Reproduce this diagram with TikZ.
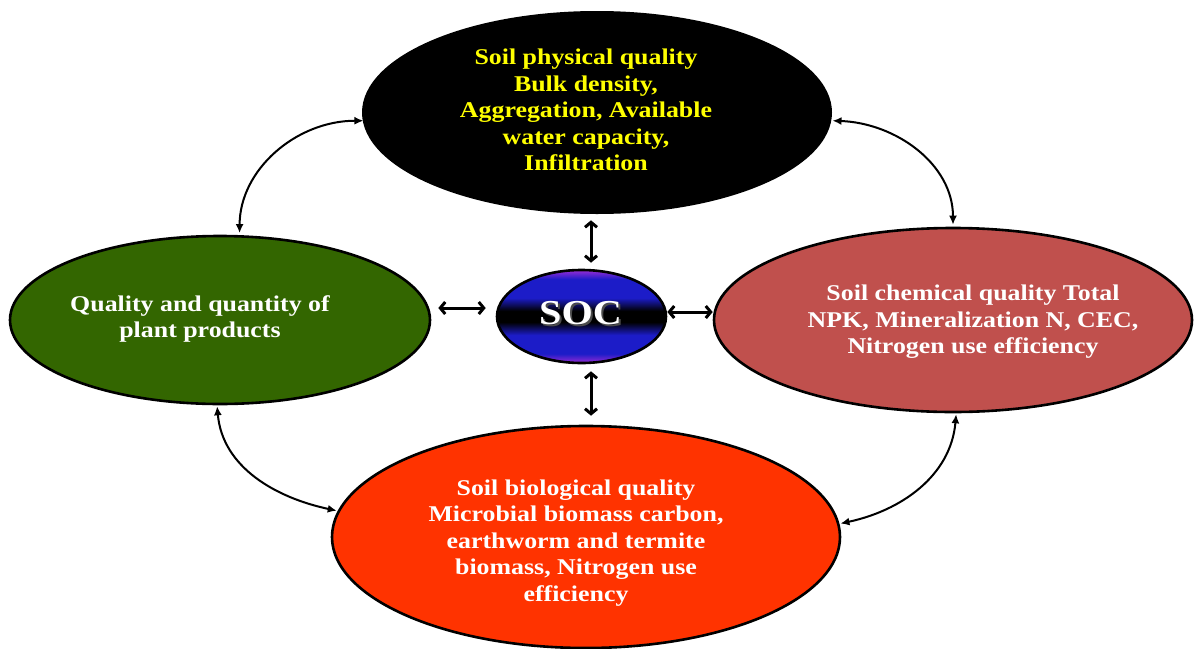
\documentclass[tikz,border=0pt]{standalone}
\usepackage{fontspec}
\newfontfamily\tnr[FakeStretch=1.15]{Liberation Serif}
\usetikzlibrary{shapes.geometric,arrows.meta}
\definecolor{physfill}{HTML}{000000}
\definecolor{plantfill}{HTML}{336600}
\definecolor{chemfill}{HTML}{C0504D}
\definecolor{biofill}{HTML}{FF3300}
\definecolor{txtyellow}{HTML}{FFFF00}
\definecolor{socv}{HTML}{9A2CD6}
\definecolor{socb}{HTML}{1C1CC8}
\pgfdeclareverticalshading{socshade}{100bp}{color(0bp)=(socv); color(25bp)=(socv); color(30bp)=(socb); color(40bp)=(socb); color(47bp)=(black); color(53bp)=(black); color(60bp)=(socb); color(70bp)=(socb); color(75bp)=(socv); color(100bp)=(socv)}
\tikzset{
  blob/.style={ellipse, inner sep=0pt, line width=2.6pt},
  boxtext/.style={align=center, font=\tnr\bfseries\fontsize{22.5}{26.5}\selectfont, inner sep=0pt},
  curvearrow/.style={line width=2pt, {Latex[length=9pt,width=8pt]}-{Latex[length=9pt,width=8pt]}},
  socarrow/.style={line width=3pt, {Straight Barb[length=5pt,width=12pt]}-{Straight Barb[length=5pt,width=12pt]}}
}
\begin{document}
\begin{tikzpicture}[x=1pt,y=-1pt]
\useasboundingbox (0,0) rectangle (1194,648);
% ellipses
\node[blob, fill=physfill, minimum width=470pt, minimum height=203pt] (phys) at (597,112.5) {};
\node[blob, draw=black, fill=plantfill, minimum width=420pt, minimum height=168pt] (plant) at (220,320) {};
\node[blob, draw=black, fill=chemfill, minimum width=478pt, minimum height=184pt] (chem) at (953,320) {};
\node[blob, draw=black, fill=biofill, minimum width=508pt, minimum height=222pt] (bio) at (586,537) {};
\node[blob, draw=black, shading=socshade, minimum width=169pt, minimum height=93pt] (soc) at (581.5,316.5) {};
% texts
\node[boxtext, text=txtyellow] (physt) at (586,110) {Soil physical quality\\Bulk density,\\Aggregation, Available\\water capacity,\\Infiltration};
\node[boxtext, text=white] (plantt) at (200,319) {Quality and quantity of\\plant products};
\node[boxtext, text=white] (chemt) at (973,322) {Soil chemical quality Total\\NPK, Mineralization N, CEC,\\Nitrogen use efficiency};
\node[boxtext, text=white] (biot) at (576,543) {Soil biological quality\\Microbial biomass carbon,\\earthworm and termite\\biomass, Nitrogen use\\efficiency};
\node[font=\tnr\bfseries\fontsize{35}{35}\selectfont, text=black!70, inner sep=0pt] (socsh) at (582.5,315) {SOC};
\node[font=\tnr\bfseries\fontsize{35}{35}\selectfont, text=white, inner sep=0pt] (soct) at (580.5,313) {SOC};
% helper coordinates
\coordinate (ax) at (591,0);
\coordinate (ayl) at (0,308);
\coordinate (ayr) at (0,312);
% straight arrows around SOC
\draw[socarrow, shorten <=5pt, shorten >=6pt] (ax |- phys.south) -- (ax |- soc.north);
\draw[socarrow, shorten <=7pt, shorten >=9pt] (ax |- soc.south) -- (ax |- bio.north);
\draw[socarrow, shorten <=7pt, shorten >=10pt] (plant.east |- ayl) -- (soc.west |- ayl);
\draw[socarrow] (soc.east |- ayr) -- (chem.west |- ayr);
% curved arrows
\draw[curvearrow, shorten <=-2pt, shorten >=2pt] (phys.182.5) to[out=180, in=90] (plant.77);
\draw[curvearrow, shorten >=2pt] (phys.358) to[out=-2, in=90] (chem.90);
\draw[curvearrow, shorten <=1pt, shorten >=1pt] (plant.268) to[out=-85, in=168] (bio.174.5);
\draw[curvearrow, shorten <=1pt, shorten >=1pt] (chem.272) to[out=-95, in=12] (bio.3.4);
\end{tikzpicture}
\end{document}
